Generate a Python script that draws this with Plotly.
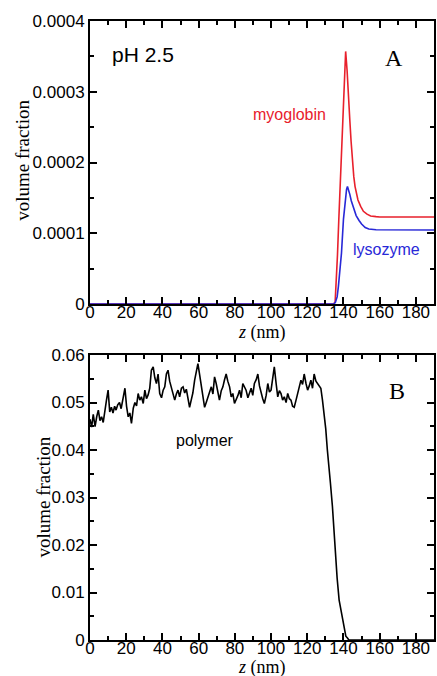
import plotly.graph_objects as go

# ---------------- data ----------------
myo_z = [0, 134.5, 135.4, 136.0, 136.7, 137.4, 138.1, 138.8, 139.4, 140.0, 140.6, 141.2,
         142.0, 142.8, 143.5, 144.2, 145.0, 145.7, 146.4, 147.2, 148.0, 149.5, 151.0,
         153.0, 155.0, 158.0, 160.0, 190.0]
myo_phi = [0, 0, 0.000003, 0.00003, 0.00007, 0.000118, 0.000166, 0.000215, 0.00026, 0.0003,
           0.000335, 0.000357, 0.00033, 0.0003, 0.00026, 0.00023, 0.0002, 0.00018, 0.000166,
           0.000155, 0.000147, 0.000138, 0.000131, 0.000127, 0.0001245, 0.0001235, 0.000123,
           0.000123]

lys_z = [0, 134.5, 135.5, 136.5, 137.2, 138.0, 138.9, 140.0, 141.0, 141.7, 142.2, 142.8,
         143.5, 144.3, 145.3, 146.2, 147.0, 148.6, 150.0, 152.0, 154.0, 158.0, 190.0]
lys_phi = [0, 0, 0.000002, 0.00001, 0.000025, 0.00005, 0.000072, 0.00012, 0.00015, 0.000162,
           0.000166, 0.000162, 0.000155, 0.000146, 0.000137, 0.00013, 0.000125, 0.000118,
           0.000113, 0.000108, 0.000106, 0.000105, 0.0001046]

poly_z = [0, 0.9, 1.8, 2.8, 3.7, 4.6, 5.5, 6.4, 7.3, 8.2, 9.1, 10.0, 10.9, 11.8, 12.7, 13.6,
          14.4, 15.3, 16.3, 17.2, 18.3, 19.3, 20.2, 21.1, 22.0, 22.9, 23.9, 24.8, 25.7, 26.6,
          27.5, 28.4, 29.4, 30.3, 31.2, 32.1, 33.0, 33.9, 34.9, 35.8, 36.7, 37.6, 38.5, 39.5,
          40.4, 41.3, 42.2, 43.1, 44.0, 44.9, 45.9, 46.8, 47.7, 48.6, 49.5, 50.5, 51.4, 52.3,
          53.2, 54.1, 55.0, 55.9, 56.8, 57.8, 58.7, 59.6, 60.5, 61.4, 62.4, 63.3, 64.2, 65.1,
          66.0, 67.0, 67.9, 68.8, 69.7, 70.6, 71.5, 72.5, 73.4, 74.3, 75.2, 76.1, 77.1, 78.0,
          78.9, 79.8, 80.7, 81.7, 82.6, 83.5, 84.4, 85.3, 86.2, 87.2, 88.1, 89.0, 89.9, 90.8,
          91.8, 92.7, 93.6, 94.5, 95.4, 96.3, 97.3, 98.2, 99.1, 100.0, 100.9, 101.8, 102.8,
          103.7, 104.6, 105.5, 106.4, 107.3, 108.3, 109.2, 110.1, 111.0, 111.9, 112.8, 113.8,
          114.7, 115.6, 116.5, 117.4, 118.3, 119.3, 120.2, 121.1, 122.0, 122.9, 123.8, 124.8,
          125.7, 126.6, 127.5, 128.4, 129.3, 130.2, 131.1, 131.7, 132.8, 133.9, 135.4, 136.5,
          137.6, 138.9, 140.3, 141.3, 142.2, 143.0, 190.0]
poly_phi = [0.0465, 0.0448, 0.0475, 0.0449, 0.0470, 0.0484, 0.0462, 0.0470, 0.0458, 0.0488,
            0.0505, 0.0526, 0.0480, 0.0490, 0.0478, 0.0492, 0.0484, 0.0495, 0.0500, 0.0487,
            0.0510, 0.0530, 0.0492, 0.0470, 0.0478, 0.0456, 0.0488, 0.0500, 0.0493, 0.0519,
            0.0505, 0.0512, 0.0498, 0.0526, 0.0508, 0.0516, 0.0530, 0.0568, 0.0575, 0.0552,
            0.0540, 0.0560, 0.0519, 0.0510, 0.0526, 0.0533, 0.0560, 0.0568, 0.0545, 0.0533,
            0.0515, 0.0505, 0.0518, 0.0526, 0.0512, 0.0530, 0.0533, 0.0520, 0.0528, 0.0512,
            0.0490, 0.0505, 0.0520, 0.0547, 0.0565, 0.0582, 0.0560, 0.0540, 0.0512, 0.0490,
            0.0500, 0.0512, 0.0525, 0.0533, 0.0518, 0.0554, 0.0540, 0.0519, 0.0505, 0.0525,
            0.0533, 0.0548, 0.0560, 0.0545, 0.0533, 0.0512, 0.0519, 0.0498, 0.0505, 0.0515,
            0.0526, 0.0510, 0.0540, 0.0533, 0.0526, 0.0510, 0.0519, 0.0530, 0.0515, 0.0540,
            0.0548, 0.0560, 0.0535, 0.0519, 0.0508, 0.0498, 0.0515, 0.0540, 0.0522, 0.0526,
            0.0548, 0.0575, 0.0540, 0.0512, 0.0525, 0.0519, 0.0505, 0.0512, 0.0500, 0.0519,
            0.0508, 0.0505, 0.0492, 0.0490, 0.0505, 0.0519, 0.0535, 0.0547, 0.0538, 0.0560,
            0.0540, 0.0526, 0.0535, 0.0547, 0.0530, 0.0560, 0.0545, 0.0540, 0.0536, 0.0530,
            0.0505, 0.0477, 0.0445, 0.0400, 0.0379, 0.0330, 0.0281, 0.0189, 0.0130, 0.0084,
            0.0055, 0.0028, 0.0008, 0.0004, 0.0, 0.0]

x_ticks = [0, 20, 40, 60, 80, 100, 120, 140, 160, 180]
x_ticktext = ["0", "20", "40", "60", "80", "100", "120", "140", "160", "180"]
ya_ticks = [0, 0.0001, 0.0002, 0.0003, 0.0004]
ya_ticktext = ["0", "0.0001", "0.0002", "0.0003", "0.0004"]
yb_ticks = [0, 0.01, 0.02, 0.03, 0.04, 0.05, 0.06]
yb_ticktext = ["0", "0.01", "0.02", "0.03", "0.04", "0.05", "0.06"]

RED = "rgb(232,32,44)"
BLUE = "rgb(40,40,215)"
SANS = "Liberation Sans, Arial, sans-serif"
TICKFONT = dict(family=SANS, size=17, color="black")
SERIF = "Liberation Serif, Times New Roman, serif"

fig = go.Figure()
fig.add_trace(go.Scatter(x=myo_z, y=myo_phi, mode="lines", line=dict(color=RED, width=1.6),
                         xaxis="x", yaxis="y", showlegend=False))
fig.add_trace(go.Scatter(x=lys_z, y=lys_phi, mode="lines", line=dict(color=BLUE, width=1.6),
                         xaxis="x", yaxis="y", showlegend=False))
fig.add_trace(go.Scatter(x=poly_z, y=poly_phi, mode="lines", line=dict(color="black", width=1.6),
                         xaxis="x2", yaxis="y2", showlegend=False))

common_x = dict(range=[0, 190], tickvals=x_ticks, ticktext=x_ticktext, ticks="inside",
                ticklen=7, tickwidth=1.5, tickcolor="black", showline=True, linecolor="black",
                linewidth=2, mirror="ticks", showgrid=False, zeroline=False, tickfont=TICKFONT,
                ticklabelstandoff=-8,
                minor=dict(dtick=10, tick0=0, ticks="inside", ticklen=4, tickwidth=1.5,
                           tickcolor="black", showgrid=False))
common_y = dict(ticks="inside", ticklen=7, tickwidth=1.5, tickcolor="black", showline=True,
                linecolor="black", linewidth=2, mirror="ticks", showgrid=False, zeroline=False,
                tickfont=TICKFONT)

fig.update_layout(
    width=437, height=676,
    margin=dict(l=90, r=1, t=21, b=36),
    paper_bgcolor="white", plot_bgcolor="white",
    xaxis=dict(domain=[0, 1], anchor="y", **common_x),
    yaxis=dict(domain=[0.5428, 1], anchor="x", range=[0, 0.0004], tickvals=ya_ticks,
               ticktext=ya_ticktext,
               minor=dict(dtick=0.00005, tick0=0, ticks="inside", ticklen=4, tickwidth=1.5,
                          tickcolor="black", showgrid=False),
               **common_y),
    xaxis2=dict(domain=[0, 1], anchor="y2", **common_x),
    yaxis2=dict(domain=[0, 0.4604], anchor="x2", range=[0, 0.06], tickvals=yb_ticks,
                ticktext=yb_ticktext,
                minor=dict(dtick=0.005, tick0=0, ticks="inside", ticklen=4, tickwidth=1.5,
                           tickcolor="black", showgrid=False),
                **common_y),
)

ann = []
# axis titles
ann.append(dict(text="<i>z</i> (nm)", xref="paper", yref="paper", x=0.5, y=0.496,
                showarrow=False, font=dict(family=SERIF, size=18, color="black"),
                xanchor="center", yanchor="middle"))
ann.append(dict(text="<i>z</i> (nm)", xref="paper", yref="paper", x=0.5, y=-0.045,
                showarrow=False, font=dict(family=SERIF, size=18, color="black"),
                xanchor="center", yanchor="middle"))
ann.append(dict(text="volume fraction", xref="paper", yref="paper", x=-0.196, y=0.775,
                textangle=-90, showarrow=False, font=dict(family=SERIF, size=19, color="black"),
                xanchor="center", yanchor="middle"))
ann.append(dict(text="volume fraction", xref="paper", yref="paper", x=-0.138, y=0.231,
                textangle=-90, showarrow=False, font=dict(family=SERIF, size=19, color="black"),
                xanchor="center", yanchor="middle"))
# panel labels
ann.append(dict(text="pH 2.5", xref="x", yref="y", x=11, y=0.000352, xanchor="left",
                yanchor="middle", showarrow=False,
                font=dict(family=SANS, size=21, color="black")))
ann.append(dict(text="A", xref="x", yref="y", x=168, y=0.000348, xanchor="center",
                yanchor="middle", showarrow=False,
                font=dict(family=SERIF, size=24, color="black")))
ann.append(dict(text="B", xref="x2", yref="y2", x=169.5, y=0.0525, xanchor="center",
                yanchor="middle", showarrow=False,
                font=dict(family=SERIF, size=24, color="black")))
ann.append(dict(text="myoglobin", xref="x", yref="y", x=110, y=0.000268, xanchor="center",
                yanchor="middle", showarrow=False,
                font=dict(family=SANS, size=16, color=RED)))
ann.append(dict(text="lysozyme", xref="x", yref="y", x=164, y=0.0000765, xanchor="center",
                yanchor="middle", showarrow=False,
                font=dict(family=SANS, size=16, color=BLUE)))
ann.append(dict(text="polymer", xref="x2", yref="y2", x=63.5, y=0.0421, xanchor="center",
                yanchor="middle", showarrow=False,
                font=dict(family=SANS, size=16, color="black")))
fig.update_layout(annotations=ann)

fig.write_html("out.html", config={"displayModeBar": False},
               post_script="document.body.style.margin='0';")
